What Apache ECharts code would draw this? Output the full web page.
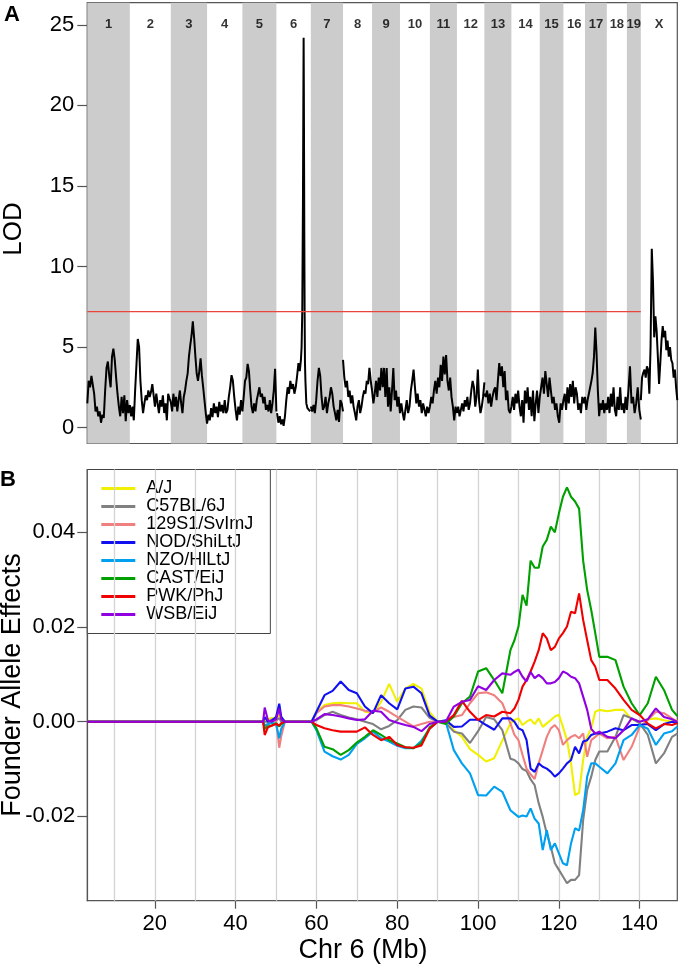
<!DOCTYPE html>
<html><head><meta charset="utf-8">
<script src="https://cdn.jsdelivr.net/npm/echarts@6/dist/echarts.min.js"></script>
<style>html,body{margin:0;padding:0;background:#fff}#c{width:680px;height:967px}</style>
</head><body><div id="c"></div><script>
// ---------- Panel A: genome scan ----------
const chrNames = ['1','2','3','4','5','6','7','8','9','10','11','12','13','14','15','16','17','18','19','X'];
const chrLen = [189,182,161,157,151,153,143,129,124,133,120,122,120,126,105,96,97,89,62,162]; // Mb
const lodTicks = [0,5,10,15,20,25];
const lodThreshold = 7.2;
// LOD values, evenly spaced along each chromosome
const lodChr1 = [1.5,2.9,2.5,3.2,3.3,2.1,1.0,1.3,0.7,1.0,0.3,0.8,0.6,2.3,3.7,4.1,3.2,2.5,4.4,4.9,4.2,3.1,2.1,1.3,0.7,1.9,0.9,2.0,0.4,1.7,0.9,1.4];
const lodChr2 = [1.4,0.7,1.3,0.45,2.3,3.9,5.5,5.0,2.9,1.7,0.9,1.5,2.0,1.7,2.3,1.9,2.2,2.7,2.0,1.3,2.1,1.5,0.9,1.7,1.3,2.0,0.9,1.5,0.45,2.1,1.8,1.6];
const lodChr3 = [1.6,1.0,2.1,1.3,1.9,1.0,1.7,2.3,1.5,0.9,1.9,2.3,2.9,3.35,4.4,5.1,5.7,6.6,5.6,4.4,3.35,2.9,3.5,4.3,3.25,2.5,1.7,0.9,0.25];
const lodChr4 = [0.25,0.8,0.45,1.2,0.65,1.5,0.9,1.3,0.65,1.6,1.0,1.4,0.9,1.7,0.9,1.1,1.9,2.5,3.25,2.9,1.9,1.1,0.45,1.3,0.8,1.7,1.0];
const lodChr5 = [1.0,1.9,2.9,3.1,3.95,3.5,2.3,1.3,0.9,1.5,1.0,1.7,2.1,2.5,1.9,2.1,1.5,1.9,1.1,1.4,1.0,1.7,0.9,1.5,2.3,3.65,1.0];
// chr 6 given as [position Mb, LOD] because of the sharp peak
const lodChr6 = [[3,0.9],[9,0.3],[15,0.7],[21,0.2],[27,0.5],[32,0.1],[38,0.7],[44,1.7],[50,2.5],[56,2.1],[62,2.9],[68,2.4],[74,2.7],[80,2.1],[86,2.5],[92,3.2],[98,4.0],[104,3.5],[109,4.2],[112,5.0],[115,7.2],[118,14],[120,21],[121,24.2],[122,21],[124,12],[125.5,7],[127,4],[129,2.9],[133,1.5],[138,1.2],[144,1.3],[150,1.0]];
const lodChr7 = [1.3,1.0,1.4,0.9,1.7,2.9,3.7,3.2,1.9,1.1,1.3,1.9,0.9,1.5,1.9,2.5,2.1,1.3,0.9,0.45,1.1,0.35,1.7,1.5,1.0];
const lodChr8 = [4.2,3.1,2.5,2.9,1.9,2.3,1.5,2.0,1.3,0.9,0.45,1.3,1.7,0.9,1.3,1.9,2.3,2.1,2.9,2.7,3.7,2.9,2.3];
const lodChr9 = [2.3,1.5,2.1,2.9,1.9,3.1,2.3,3.7,2.5,3.7,1.9,3.7,1.3,2.5,1.0,2.3,3.7,1.7,2.3,1.3,1.9,0.9];
const lodChr10 = [0.9,1.5,0.9,0.45,1.1,1.7,0.9,1.3,2.3,2.9,3.6,2.5,1.5,2.1,1.3,1.7,0.9,1.5,1.1,0.7,1.3,0.9,1.3];
const lodChr11 = [1.3,1.9,1.5,2.3,2.9,2.1,3.1,2.5,3.9,2.9,4.4,3.3,4.5,2.9,2.3,3.1,1.9,1.3,0.45,1.3,0.9];
const lodChr12 = [0.9,1.3,0.7,1.1,1.5,1.0,1.7,1.3,1.9,1.1,1.5,2.3,2.9,2.5,1.3,1.9,3.6,1.6,0.9,1.3,1.9,2.8];
const lodChr13 = [2.1,1.9,2.3,1.5,2.1,1.3,1.9,2.3,2.5,1.7,2.9,4.0,3.2,3.8,2.5,3.5,1.7,2.3,1.1,0.9,1.3];
const lodChr14 = [1.3,1.9,1.1,2.1,1.5,2.3,1.3,0.7,1.7,0.3,2.3,1.5,2.5,1.1,1.9,0.7,2.3,0.4,1.5,2.3,0.9,1.9];
const lodChr15 = [1.9,2.5,3.1,2.1,3.5,2.7,1.9,3.1,2.3,1.5,1.9,1.1,1.5,0.7,0.3,1.5,1.1,1.7];
const lodChr16 = [1.7,2.1,1.1,2.5,1.5,2.7,1.9,2.9,1.5,2.5,2.1,1.1,1.5,0.9,1.9,1.5,1.9];
const lodChr17 = [1.9,1.1,1.7,2.1,2.5,2.9,3.4,4.4,6.2,4.6,2.3,0.7,1.5,1.1,1.7,0.9,1.5,1.1];
const lodChr18 = [1.1,1.9,0.9,2.1,1.3,2.5,1.1,0.7,1.9,1.1,2.5,1.1,1.5,0.9,1.9,1.1];
const lodChr19 = [1.1,2.3,3.8,1.5,1.9,0.9,1.5,2.5,1.1,0.5];
const lodChrX = [1.7,3.1,3.4,3.6,3.1,3.8,3.6,2.1,5.0,11.1,9.1,5.6,6.9,6.0,4.4,2.7,4.0,5.4,6.3,5.6,6.0,4.8,5.4,4.4,5.0,4.2,4.0,3.1,3.6,2.5,1.7];

// ---------- Panel B: founder allele effects on Chr 6 ----------
const founderNames = ['A/J','C57BL/6J','129S1/SvImJ','NOD/ShiLtJ','NZO/HlLtJ','CAST/EiJ','PWK/PhJ','WSB/EiJ'];
const founderColors = ['#F0F000','#808080','#F08080','#1010F0','#00A0F0','#00A000','#F00000','#9000E0'];
const effXTicks = [20,40,60,80,100,120,140];
const effYTicks = [-0.02,0,0.02,0.04];
const effGridMb = [10,20,30,40,50,60,70,80,90,100,110,120,130,140];
const effPos = [3.3,46.8,47.2,48,49,50,50.8,51.3,52.2,54.3,54.6,54.9,58.8,
  60,62,64,66,68,70,72,74,76,78,80,82,84,86,88,90,92,94,96,98,100,102,104,106,
  108,109,110,111,112,113,114,115,116,117,118,119,120,121,122,123,124,125,126,127,128,129,130,
  132,134,136,138,140,142,144,146,148,149.3];
// effects in units of 0.001
const effAJ = [0,0,0.5,0.5,0.8,0.5,1.5,0.5,0,0,0,0,0,
  2.1,3.5,3.9,4.0,3.9,3.9,2.1,1.8,4.2,8.0,4.2,7.0,8.0,7.0,2.0,0,0,-1.8,-3.2,-5.8,-7.0,-8.4,-7.7,-4.0,
  -0.35,0.35,0.7,-0.7,0,0.5,-0.5,0.7,-1.1,-0.35,0.35,1.1,1.5,-1.1,-3.9,-8.8,-15.5,-15.0,-8.1,-3.2,-1.4,2.1,2.5,
  2.2,2.5,2.5,0.5,0,0.5,0.7,0.3,0,0.3];
const effB6 = [0,0,0.3,0,0.3,0.2,0.8,0,0,0,0,0,0,
  0.35,1.4,2.1,1.4,0.9,0.5,0,-0.5,-1.6,-0.9,0.35,2.5,3.2,3.0,0.8,0,-0.3,-2.1,-2.5,-4.5,-2.0,1.0,0.5,-1.8,
  -7.8,-8.1,-8.8,-10.0,-10.4,-12.2,-13.4,-17.2,-20.1,-23.6,-26.4,-29.9,-31.3,-32.7,-34.1,-33.4,-33.4,-32.4,-20.8,-14.4,-11.6,-8.1,-6.3,
  -6.3,-3.2,1.4,0.7,-0.35,-2.8,-8.8,-6.7,-3.2,-2.5];
const eff129 = [0,0,-1.0,-0.8,0.5,0.5,-5.5,-3.0,0,0,0,0,0,
  1.8,3.2,3.5,3.5,3.2,2.8,2.3,2.1,3.0,2.1,1.0,0,-1.0,-0.5,0,0,0,1.0,1.4,3.9,6.0,6.2,5.6,3.9,
  -0.35,-2.8,-3.9,-7.0,-9.9,-11.1,-12.1,-8.8,-6.0,-3.2,-1.4,-0.7,-1.8,-4.9,-3.9,-3.2,-2.8,-3.5,-2.5,-7.4,-3.9,-3.2,-2.5,
  -3.5,-3.2,-8.1,-5.3,-1.1,0.35,2.1,1.8,0.7,0];
const effNOD = [0,0,1.0,0,0.3,1.0,3.8,1.0,0,0,0,0,0,
  2.1,5.6,6.5,8.5,6.7,6.0,3.2,1.8,5.6,3.9,2.6,7.0,7.4,6.0,1.3,0,0.3,-1.1,-1.0,0.4,0.4,-0.7,-1.7,0.7,
  0.7,0,-1.4,-1.8,-3.9,-9.9,-10.6,-8.8,-9.5,-9.9,-10.6,-11.6,-10.9,-9.9,-8.8,-8.1,-5.3,-6.7,-4.2,-3.9,-2.8,-2.5,-2.5,
  -2.1,-1.4,-1.8,-0.7,-0.7,-0.5,-1.8,-0.5,0,-0.3];
const effNZO = [0,0,-0.8,-0.5,-0.2,-0.5,-3.5,-1.5,0,0,0,0,0,
  -1.8,-6.3,-7.3,-8.0,-7.0,-4.7,-3.5,-2.1,-3.5,-4.2,-5.1,-5.6,-5.6,-4.0,-1.5,0,0,-6.0,-8.8,-10.9,-15.5,-15.6,-13.7,-14.8,
  -18.7,-19.4,-20.1,-19.8,-20.0,-18.3,-20.5,-21.5,-27.1,-22.9,-27.1,-25.7,-27.8,-29.9,-30.3,-25.7,-22.5,-23.0,-18.7,-11.6,-8.8,-8.8,-9.5,
  -10.9,-8.8,-3.9,-2.8,-0.7,-1.5,-4.9,-2.5,-2.0,-1.0];
const effCAST = [0,0,-1.5,-1.0,-0.8,-0.3,-1.0,-0.5,0,0,0,0,0,
  -1.4,-5.3,-5.8,-7.0,-6.0,-4.4,-3.2,-1.8,-2.8,-3.9,-4.6,-5.4,-5.6,-4.5,-1.2,0,-0.5,1.1,3.9,5.3,10.6,11.3,8.8,6.0,
  15.1,17.2,20.1,26.8,24.5,34.0,32.5,32.5,37.0,38.4,41.2,40.0,44.0,47.5,49.5,47.5,46.5,45.0,34.0,27.8,23.6,18.7,13.7,
  13.7,13.0,7.4,3.9,1.4,3.9,9.5,6.7,2.5,1.2];
const effPWK = [0,0,-2.8,-1.2,-0.8,-0.5,-0.8,-0.3,0,0,0,0,0,
  -0.7,-1.4,-1.8,-2.1,-2.1,-2.1,-1.2,-2.8,-3.9,-3.2,-4.9,-5.4,-5.5,-5.0,-1.5,0,0,1.4,4.4,2.1,0.35,1.4,1.1,2.1,
  1.8,2.8,4.6,7.4,8.8,10.6,12.7,15.1,18.7,17.6,15.1,15.8,17.6,18.7,20.1,23.2,22.9,27.1,21.5,17.2,13.0,11.6,8.8,
  8.8,7.0,4.6,2.5,1.4,-0.4,-1.4,-0.5,-0.7,-0.3];
const effWSB = [0,0,3.0,0.3,0,0.5,2.8,0.5,0,0,0.3,0,0,
  0.5,1.6,1.4,1.1,0.7,0.35,0.5,2.3,2.1,0.35,-0.2,-0.7,-1.1,-2.0,-0.5,0,0,3.2,4.2,4.6,7.5,6.7,8.8,10.2,
  9.9,10.5,11.0,9.5,8.5,10.5,9.2,9.9,9.2,8.1,8.1,8.4,9.2,10.6,10.2,9.5,9.2,8.1,5.3,2.5,-1.5,-2.5,-2.1,
  -3.2,-3.5,-1.8,0.7,0,0.5,2.8,1.0,0.5,0];

// ---------- build ----------
const FONT = 'Liberation Sans, Arial, sans-serif';
const lodByChr = [lodChr1,lodChr2,lodChr3,lodChr4,lodChr5,lodChr6,lodChr7,lodChr8,lodChr9,lodChr10,
  lodChr11,lodChr12,lodChr13,lodChr14,lodChr15,lodChr16,lodChr17,lodChr18,lodChr19,lodChrX];
const chrStart = []; let acc = 0;
chrLen.forEach(L => { chrStart.push(acc); acc += L; });
const genomeLen = acc;
const lodData = [];
lodByChr.forEach((arr, i) => {
  const s = chrStart[i], L = chrLen[i];
  arr.forEach((v, k) => {
    if (Array.isArray(v)) lodData.push([s + v[0], v[1]]);
    else lodData.push([s + k * L / (arr.length - 1), v]);
  });
  lodData.push([s + L, null]);
});
const bandAreas = [];
chrLen.forEach((L, i) => { if (i % 2 === 0) bandAreas.push([{xAxis: chrStart[i]}, {xAxis: chrStart[i] + L}]); });
const chrLabelData = chrNames.map((n, i) => ({name: n, value: [chrStart[i] + chrLen[i] / 2, 25]}));

const effArrays = [effAJ, effB6, eff129, effNOD, effNZO, effCAST, effPWK, effWSB];
const effSeries = effArrays.map((arr, j) => ({
  name: founderNames[j], type: 'line', xAxisIndex: 1, yAxisIndex: 1,
  data: effPos.map((x, i) => [x, arr[i] / 1000]),
  symbol: 'none', showSymbol: false, z: 5 + j,
  lineStyle: {color: founderColors[j], width: 2.1}, itemStyle: {color: founderColors[j]}
}));

const chart = echarts.init(document.getElementById('c'), null, {renderer: 'canvas'});
chart.setOption({
  animation: false,
  backgroundColor: '#fff',
  grid: [
    {left: 87.3, top: 2.7, width: 590, height: 440.8, show: true, borderColor: '#555', borderWidth: 1.2},
    {left: 87.3, top: 469.5, width: 590, height: 431.2, show: true, borderColor: '#555', borderWidth: 1.2}
  ],
  xAxis: [
    {gridIndex: 0, type: 'value', min: 0, max: genomeLen, show: false},
    {gridIndex: 1, type: 'value', min: 3.3, max: 149.3, position: 'bottom',
      axisLine: {show: true, onZero: false, lineStyle: {color: '#555', width: 1.2}},
      axisTick: {show: true, length: 8, customValues: effXTicks, lineStyle: {color: '#555', width: 1.2}},
      axisLabel: {customValues: effXTicks, fontSize: 22, margin: 12, color: '#000', fontFamily: FONT},
      splitLine: {show: false}}
  ],
  yAxis: [
    {gridIndex: 0, type: 'value', min: -0.99, max: 26.37,
      axisLine: {show: true, onZero: false, lineStyle: {color: '#555', width: 1.2}},
      axisTick: {show: true, length: 10, customValues: lodTicks, lineStyle: {color: '#555', width: 1.2}},
      axisLabel: {customValues: lodTicks, fontSize: 22, margin: 13, color: '#000', fontFamily: FONT},
      splitLine: {show: false}},
    {gridIndex: 1, type: 'value', min: -0.0378, max: 0.05326,
      axisLine: {show: true, onZero: false, lineStyle: {color: '#555', width: 1.2}},
      axisTick: {show: true, length: 10, customValues: effYTicks, lineStyle: {color: '#555', width: 1.2}},
      axisLabel: {customValues: effYTicks, fontSize: 22, margin: 12, color: '#000', fontFamily: FONT,
        formatter: v => Number(v).toFixed(2)},
      splitLine: {show: false}}
  ],
  legend: {
    orient: 'vertical', left: 87.3, top: 469.5, data: founderNames, selectedMode: false,
    icon: 'rect', itemWidth: 34, itemHeight: 3, itemGap: 0,
    padding: [10, 17, 10, 14], backgroundColor: '#fff', borderColor: '#444', borderWidth: 1, borderRadius: 0,
    textStyle: {fontSize: 18, fontFamily: FONT, color: '#000', lineHeight: 16.3, padding: [0, 0, 0, 6]}
  },
  graphic: [
    {type: 'text', x: 12, y: 15, style: {text: 'A', font: 'bold 22px ' + FONT, fill: '#000', align: 'center', verticalAlign: 'middle'}},
    {type: 'text', x: 8, y: 480, style: {text: 'B', font: 'bold 22px ' + FONT, fill: '#000', align: 'center', verticalAlign: 'middle'}},
    {type: 'text', x: 14, y: 229, rotation: Math.PI / 2, style: {text: 'LOD', font: '26px ' + FONT, fill: '#000', align: 'center', verticalAlign: 'middle'}},
    {type: 'text', x: 13, y: 685, rotation: Math.PI / 2, style: {text: 'Founder Allele Effects', font: '27px ' + FONT, fill: '#000', align: 'center', verticalAlign: 'middle'}},
    {type: 'text', x: 363, y: 951, style: {text: 'Chr 6 (Mb)', font: '27px ' + FONT, fill: '#000', align: 'center', verticalAlign: 'middle'}}
  ],
  series: [
    {type: 'line', xAxisIndex: 0, yAxisIndex: 0, data: [], z: 1, silent: true,
      markArea: {silent: true, itemStyle: {color: '#cccccc'}, label: {show: false}, data: bandAreas}},
    {type: 'line', xAxisIndex: 0, yAxisIndex: 0, data: lodData, z: 3, symbol: 'none', showSymbol: false,
      connectNulls: false, lineStyle: {color: '#000', width: 2}},
    {type: 'line', xAxisIndex: 0, yAxisIndex: 0, data: [[0, lodThreshold], [chrStart[19], lodThreshold]], z: 4,
      symbol: 'none', lineStyle: {color: '#e8453c', width: 1.3}},
    {type: 'scatter', xAxisIndex: 0, yAxisIndex: 0, data: chrLabelData, z: 5, symbolSize: 0.1,
      itemStyle: {color: 'rgba(0,0,0,0)'}, silent: true,
      label: {show: true, position: 'inside', formatter: '{b}', fontSize: 13, fontWeight: 'bold', color: '#000', fontFamily: FONT}},
    {type: 'line', xAxisIndex: 1, yAxisIndex: 1, data: [], z: 1, silent: true,
      markLine: {silent: true, symbol: ['none', 'none'], label: {show: false},
        lineStyle: {color: '#d3d3d3', width: 1.3, type: 'solid'}, data: effGridMb.map(v => ({xAxis: v}))}}
  ].concat(effSeries)
});
</script></body></html>
